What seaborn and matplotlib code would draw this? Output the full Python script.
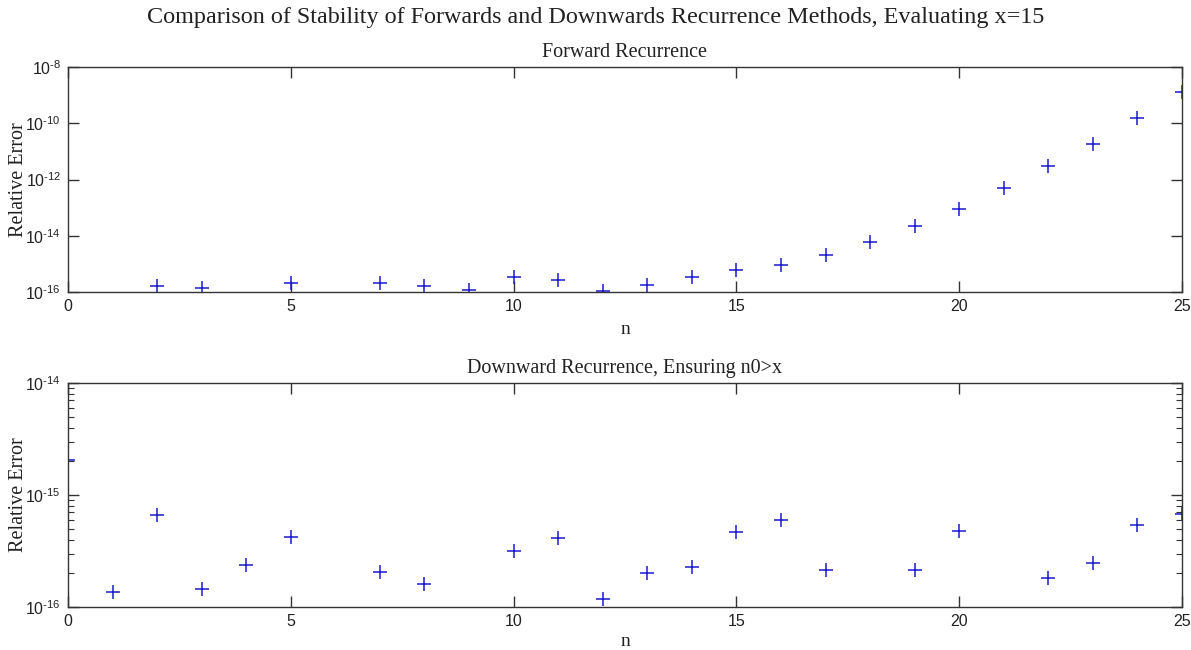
import numpy as np
import pandas as pd
import matplotlib
matplotlib.use("Agg")
import matplotlib.pyplot as plt
import matplotlib.ticker as mticker
import seaborn as sns

# Orders n = 0..25; NaN where the relative error was exactly zero (not drawable on log axes)
n_values = list(range(26))

forward_error = [np.nan, np.nan, 1.6e-16, 1.4e-16, np.nan, 2.1e-16, np.nan, 2.1e-16,
                 1.6e-16, 1.2e-16, 3.4e-16, 2.7e-16, 1.1e-16, 1.8e-16, 3.3e-16, 5.9e-16,
                 9.3e-16, 2.1e-15, 5.9e-15, 2.2e-14, 9.1e-14, 4.8e-13, 2.9e-12, 1.9e-11,
                 1.5e-10, 1.3e-09]

downward_error = [2.07e-15, 1.36e-16, 6.67e-16, 1.44e-16, 2.37e-16, 4.25e-16, np.nan, 2.04e-16,
                  1.6e-16, np.nan, 3.13e-16, 4.16e-16, 1.19e-16, 2.0e-16, 2.26e-16, 4.64e-16,
                  5.98e-16, 2.12e-16, np.nan, 2.12e-16, 4.73e-16, np.nan, 1.82e-16, 2.47e-16,
                  5.36e-16, 6.76e-16]

x_ticks = [0, 5, 10, 15, 20, 25]
forward_yticks = [1e-16, 1e-14, 1e-12, 1e-10, 1e-8]
downward_yticks = [1e-16, 1e-15, 1e-14]

sns.set_style("white")
plt.rcParams["font.family"] = ["Liberation Sans", "DejaVu Sans"]
plt.rcParams["mathtext.fontset"] = "custom"
plt.rcParams["mathtext.rm"] = "Liberation Sans"
plt.rcParams["mathtext.default"] = "regular"

SERIF = ["Liberation Serif", "DejaVu Serif"]
EDGE = "#333333"
TEXT = "#222222"

df = pd.DataFrame({"n": n_values, "forward": forward_error, "downward": downward_error})


def decade_label(value, _pos):
    # "10" with a short hyphen exponent, e.g. 10^-16
    exp = int(round(np.log10(value)))
    return r"$10^{\text{%d}}$" % exp


W, H = 1191, 650
fig = plt.figure(figsize=(W / 100, H / 100), dpi=100)
ax1 = fig.add_axes([68 / W, 1 - 292 / H, 1114 / W, 225 / H])
ax2 = fig.add_axes([68 / W, 1 - 607 / H, 1114 / W, 224 / H])


def style_axes(ax, yticks, minor, height_px, xlabel_y_px):
    ax.set_yscale("log")
    ax.set_xlim(0, 25)
    ax.set_ylim(yticks[0], yticks[-1])
    ax.set_xticks(x_ticks)
    ax.xaxis.set_minor_locator(mticker.NullLocator())
    ax.yaxis.set_major_locator(mticker.FixedLocator(yticks))
    ax.yaxis.set_major_formatter(mticker.FuncFormatter(decade_label))
    if minor:
        ax.yaxis.set_minor_locator(mticker.LogLocator(base=10, subs=np.arange(2, 10)))
    else:
        ax.yaxis.set_minor_locator(mticker.NullLocator())
    ax.yaxis.set_minor_formatter(mticker.NullFormatter())
    for s in ax.spines.values():
        s.set_color(EDGE)
        s.set_linewidth(1.0)
        s.set_visible(True)
    ax.tick_params(axis="both", which="major", direction="in", length=8, width=1,
                   color=EDGE, labelcolor=TEXT, labelsize=11.5,
                   top=True, right=True, bottom=True, left=True, pad=5)
    ax.tick_params(axis="both", which="minor", direction="in", length=4, width=0.8,
                   color=EDGE, top=True, right=True, bottom=True, left=True)
    ax.set_xlabel("n", fontfamily=SERIF, fontsize=14, color=TEXT)
    ax.set_ylabel("Relative Error", fontfamily=SERIF, fontsize=14.5, color=TEXT)
    ax.yaxis.set_label_coords(-49 / 1114, 0.5)
    ax.xaxis.set_label_coords(0.5, -xlabel_y_px / height_px)
    ax.xaxis.label.set_va("center")
    ax.yaxis.label.set_va("center")


sns.scatterplot(data=df, x="n", y="forward", ax=ax1, marker="+", color="#1a1acc",
                s=90, linewidth=1.1, legend=False)
style_axes(ax1, forward_yticks, minor=False, height_px=225, xlabel_y_px=37)
ax1.set_title("Forward Recurrence", fontfamily=SERIF, fontsize=14.5, color=TEXT, pad=7)

sns.scatterplot(data=df, x="n", y="downward", ax=ax2, marker="+", color="#1a1acc",
                s=90, linewidth=1.1, legend=False)
style_axes(ax2, downward_yticks, minor=True, height_px=224, xlabel_y_px=35)
ax2.set_title("Downward Recurrence, Ensuring n0>x", fontfamily=SERIF, fontsize=14.5,
              color=TEXT, pad=7)

fig.text(0.5, 1 - 18 / H, "Comparison of Stability of Forwards and Downwards Recurrence Methods, Evaluating x=15",
         ha="center", va="center", fontfamily=SERIF, fontsize=17.4, color=TEXT)

fig.savefig("out.png", dpi=100, facecolor="white")
